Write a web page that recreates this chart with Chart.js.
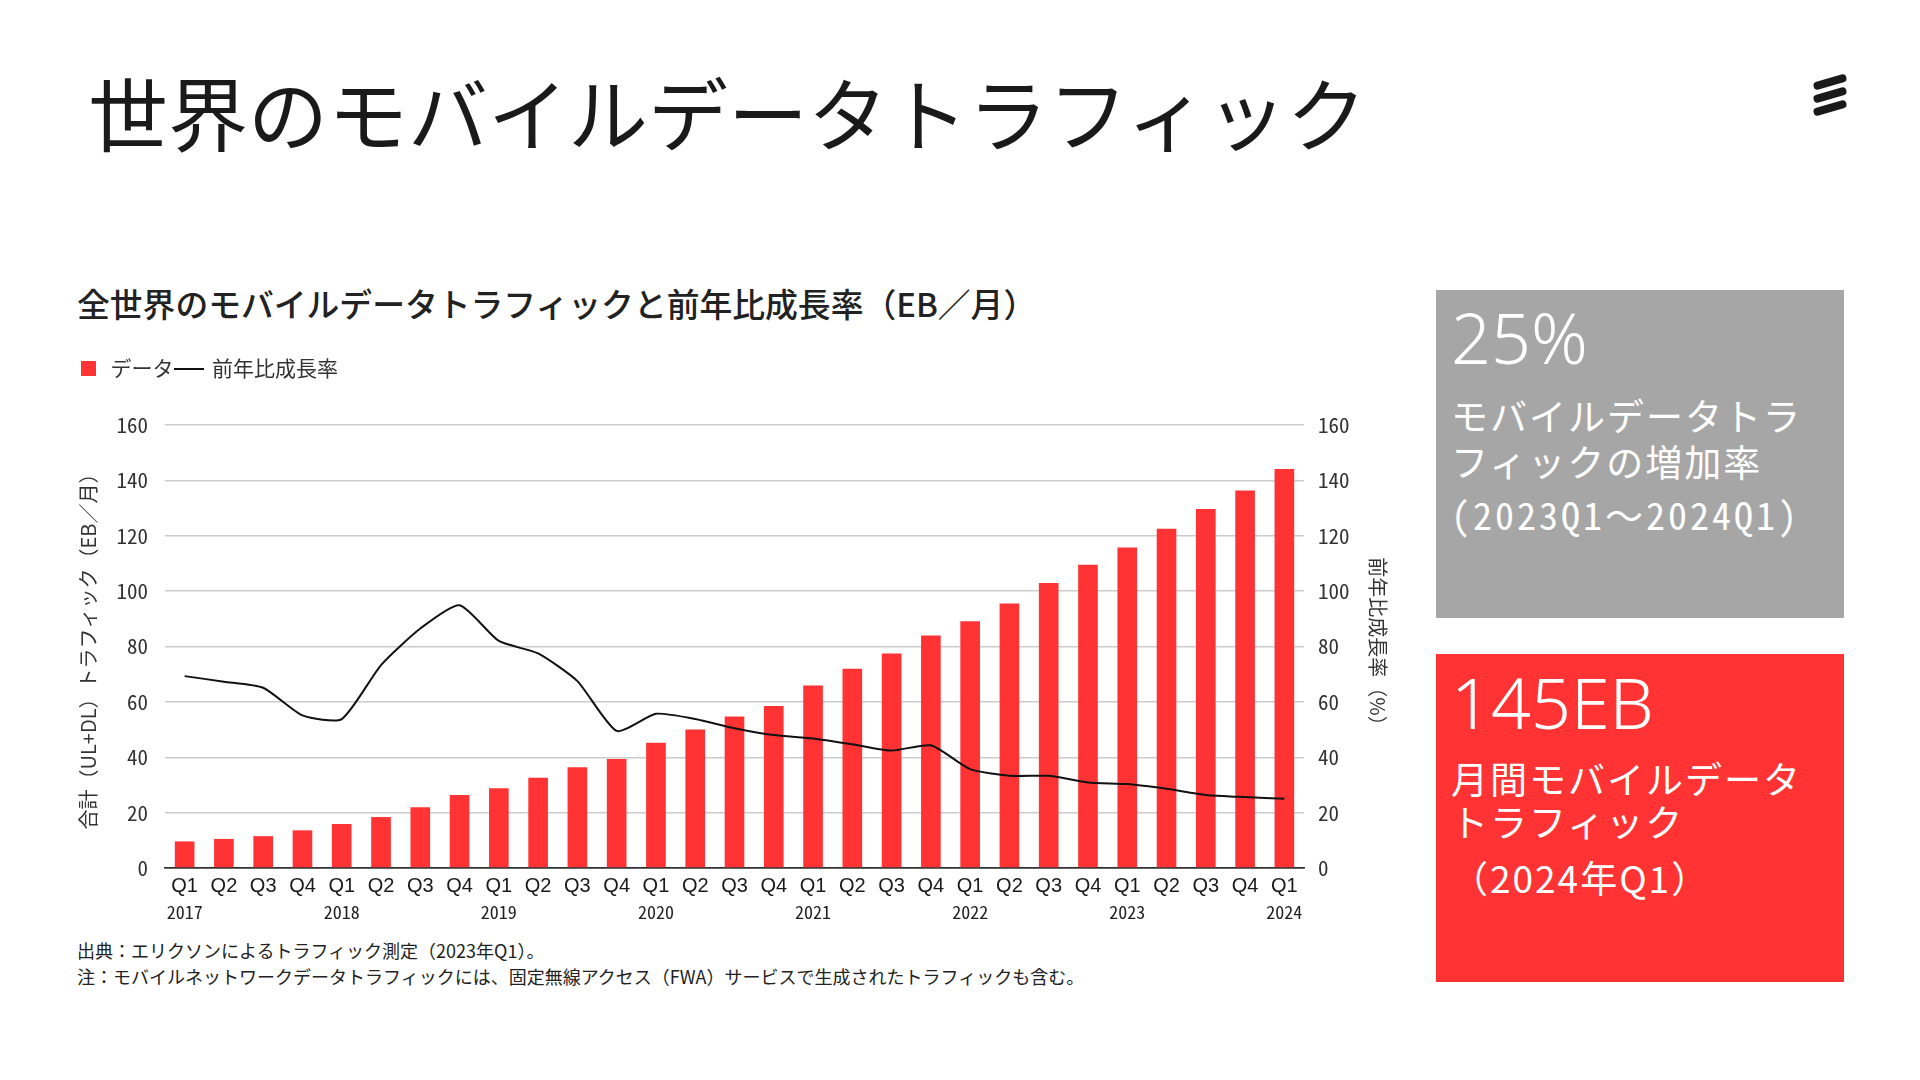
<!DOCTYPE html>
<html>
<head>
<meta charset="utf-8">
<script src="https://cdn.jsdelivr.net/npm/chart.js@4.4.1/dist/chart.umd.min.js"></script>
<style>
  body { margin:0; width:1920px; height:1080px; background:#fff; position:relative; overflow:hidden;
         font-family:"Noto Sans CJK JP", sans-serif; color:#1a1a1a; }
  .abs { position:absolute; white-space:nowrap; line-height:1; }
  .title { left:88px; top:70px; font-size:80px; font-weight:400; }
  .subtitle { left:77px; top:287px; font-size:32.8px; font-weight:500; color:#222; }
  .note { left:77px; font-size:18px; color:#222; }
  .box { position:absolute; left:1436px; width:408px; height:328px; }
  .boxtxt { position:absolute; left:1451px; color:#fff; white-space:nowrap; line-height:1; }
  .big { font-size:70px; font-family:"Noto Sans", sans-serif; font-weight:300; }
  .mid { font-size:37px; letter-spacing:2px; font-family:"Noto Sans CJK JP", sans-serif; }
  .mono { font-size:38px; letter-spacing:3px; font-family:"Noto Sans Mono CJK JP", "DejaVu Sans Mono", monospace; }
  .logo { position:absolute; width:34px; height:8px; border-radius:4px; background:#1a1a1a;
          transform:rotate(-16deg); left:1813px; }
  #trafficChart { position:absolute; left:60px; top:354px; }
</style>
</head>
<body>
<div class="abs title">世界のモバイルデータトラフィック</div>
<div class="logo" style="top:78px"></div>
<div class="logo" style="top:91px"></div>
<div class="logo" style="top:104px"></div>

<div class="abs subtitle">全世界のモバイルデータトラフィックと前年比成長率（EB／月）</div>
<canvas id="trafficChart" width="1360" height="576"></canvas>
<div class="abs note" style="top:941px">出典：エリクソンによるトラフィック測定（2023年Q1）。</div>
<div class="abs note" style="top:967px">注：モバイルネットワークデータトラフィックには、固定無線アクセス（FWA）サービスで生成されたトラフィックも含む。</div>

<div class="box" style="top:290px; background:#a6a6a6"></div>
<div class="boxtxt big" style="top:302px">25%</div>
<div class="boxtxt mid" style="top:397px">モバイルデータトラ</div>
<div class="boxtxt mid" style="top:443px">フィックの増加率</div>
<div class="boxtxt mono" style="top:495px">(2023Q1～2024Q1)</div>

<div class="box" style="top:654px; background:#ff3333"></div>
<div class="boxtxt big" style="top:667px">145EB</div>
<div class="boxtxt mid" style="top:760px">月間モバイルデータ</div>
<div class="boxtxt mid" style="top:803px">トラフィック</div>
<div class="boxtxt mid" style="top:859px">（2024年Q1）</div>

<script>
var quarters = ['Q1','Q2','Q3','Q4','Q1','Q2','Q3','Q4','Q1','Q2','Q3','Q4','Q1','Q2','Q3','Q4',
                'Q1','Q2','Q3','Q4','Q1','Q2','Q3','Q4','Q1','Q2','Q3','Q4','Q1'];
var yearLabels = ['2017','','','','2018','','','','2019','','','','2020','','','',
                  '2021','','','','2022','','','','2023','','','','2024'];
// 月間トラフィック (EB)
var trafficEB = [9.6,10.5,11.5,13.6,15.9,18.4,21.9,26.4,28.8,32.6,36.4,39.4,45.2,50.0,54.7,58.5,
                 65.9,72.0,77.5,84.0,89.1,95.5,102.9,109.5,115.8,122.5,129.7,136.3,144.1];
// 前年比成長率 (%)
var growthPct = [69.3,67.3,65.1,55.1,53.8,73.3,86.5,94.9,82.0,77.5,67.5,49.5,55.7,53.8,50.5,48.0,
                 46.8,44.7,42.4,44.3,35.7,33.3,33.3,30.9,30.3,28.6,26.4,25.6,25.0];
var axisTicks = [0,20,40,60,80,100,120,140,160];

var monoFont = '"Noto Sans Mono CJK JP", "DejaVu Sans Mono", monospace';
var sansFont = '"Liberation Sans", Arial, sans-serif';
var jpFont = '"Noto Sans CJK JP", sans-serif';

function legendIcon(w, h, color) {
  var c = document.createElement('canvas');
  c.width = w; c.height = h;
  var g = c.getContext('2d');
  g.fillStyle = color;
  g.fillRect(0, 0, w, h);
  return c;
}
var barIcon = legendIcon(15, 15, '#ff3333');
var lineIcon = legendIcon(30, 2, '#111');

var legendGap = {
  id: 'legendGap',
  beforeInit: function(chart) {
    var fit = chart.legend.fit;
    chart.legend.fit = function() {
      fit.bind(chart.legend)();
      this.height += 36;
    };
  }
};

var ctx = document.getElementById('trafficChart').getContext('2d');
var chart = new Chart(ctx, {
  type: 'bar',
  data: {
    labels: quarters,
    datasets: [
      { label: 'データ', data: trafficEB, backgroundColor: '#ff3333', yAxisID: 'y', xAxisID: 'x',
        barPercentage: 0.5, categoryPercentage: 1.0, order: 1 },
      { type: 'line', label: '前年比成長率', data: growthPct, borderColor: '#111', borderWidth: 2,
        pointRadius: 0, tension: 0.2, fill: false, yAxisID: 'y1', xAxisID: 'x', order: 0 }
    ]
  },
  options: {
    responsive: false,
    devicePixelRatio: 1,
    animation: false,
    layout: { padding: { left: 12, right: 0, top: 0, bottom: 0 } },
    plugins: {
      tooltip: { enabled: false },
      legend: {
        position: 'top',
        align: 'start',
        labels: {
          usePointStyle: true,
          pointStyleWidth: 24,
          boxHeight: 14,
          padding: 4,
          color: '#333',
          font: { family: jpFont, size: 21 },
          generateLabels: function(chart) {
            return chart.data.datasets.map(function(ds, i) {
              return { text: ds.label, pointStyle: i === 0 ? barIcon : lineIcon,
                       fillStyle: ds.backgroundColor, strokeStyle: ds.borderColor,
                       lineWidth: 0, hidden: false, datasetIndex: i, fontColor: '#333' };
            });
          }
        }
      }
    },
    scales: {
      x: {
        type: 'category', offset: true,
        grid: { display: false },
        border: { color: '#333', width: 1.5 },
        ticks: { font: { family: sansFont, size: 20 }, color: '#1a1a1a', padding: -2, autoSkip: false, maxRotation: 0 },
        afterFit: function(s) { s.height = 30; }
      },
      x2: {
        type: 'category', labels: yearLabels, position: 'bottom', offset: true,
        grid: { display: false },
        border: { display: false },
        ticks: { font: { family: monoFont, size: 18 }, color: '#222', padding: -5, autoSkip: false, maxRotation: 0 },
        afterFit: function(s) { s.height = 32; }
      },
      y: {
        position: 'left', min: 0, max: 160,
        afterBuildTicks: function(s) { s.ticks = axisTicks.map(function(v) { return { value: v }; }); },
        grid: { color: function(c) { return c.tick && c.tick.value === 0 ? '#333' : '#cccccc'; },
                lineWidth: 1.5, drawTicks: false },
        border: { display: false },
        ticks: { font: { family: monoFont, size: 21 }, color: '#333', padding: 17 },
        title: { display: true, text: '合計（UL+DL）トラフィック（EB／月）', color: '#333',
                 font: { family: jpFont, size: 20 }, padding: { top: 4, bottom: 0 } },
        afterFit: function(s) { s.width = 93; }
      },
      y1: {
        position: 'right', min: 0, max: 160,
        afterBuildTicks: function(s) { s.ticks = axisTicks.map(function(v) { return { value: v }; }); },
        grid: { display: false, drawTicks: false },
        border: { display: false },
        ticks: { font: { family: monoFont, size: 21 }, color: '#333', padding: 14 },
        title: { display: true, text: '前年比成長率（%）', color: '#333',
                 font: { family: jpFont, size: 20 }, padding: { top: 30, bottom: 0 } },
        afterFit: function(s) { s.width = 116; }
      }
    }
  },
  plugins: [legendGap]
});
</script>
</body>
</html>
